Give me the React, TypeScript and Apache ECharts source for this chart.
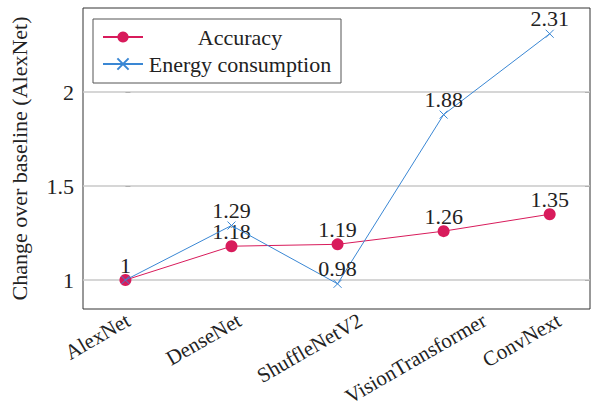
import React, { useEffect, useRef } from "react";
import * as echarts from "echarts";

const categories = ["AlexNet", "DenseNet", "ShuffleNetV2", "VisionTransformer", "ConvNext"];
const accuracy = [1, 1.18, 1.19, 1.26, 1.35];
const energy = [1, 1.29, 0.98, 1.88, 2.31];
const yTicks = [1, 1.5, 2];
const yTickLabels = ["1", "1.5", "2"];

const ACC = "#d81b5b";
const EN = "#3a87d4";
const FONT = "Liberation Serif";
const TXT = "#222";
const FS = 22;
const XFS = 21;

const X_MIN = -0.4;
const X_MAX = 4.38;
const GRID_LEFT = 83;
const GRID_RIGHT = 3;
const WIDTH = 593;

export default function App() {
  const ref = useRef<HTMLDivElement>(null);
  useEffect(() => {
    if (!ref.current) return;
    const chart = echarts.init(ref.current, null, { renderer: "svg" });
    // place rotated category labels so that their centre sits left of the tick (as in the reference)
    const pxPerUnit = (WIDTH - GRID_LEFT - GRID_RIGHT) / (X_MAX - X_MIN);
    const canvas = document.createElement("canvas");
    const ctx = canvas.getContext("2d")!;
    ctx.font = `${XFS}px "${FONT}"`;
    const labelPos = categories.map((c, i) => {
      const w = ctx.measureText(c).width;
      const shiftPx = -33 + 0.433 * w;
      return i + shiftPx / pxPerUnit;
    });
    const nearest = (v: number) => {
      let best = 0;
      labelPos.forEach((p, i) => {
        if (Math.abs(p - v) < Math.abs(labelPos[best] - v)) best = i;
      });
      return best;
    };
    chart.setOption({
      animation: false,
      textStyle: { fontFamily: FONT, color: TXT },
      grid: {
        left: GRID_LEFT,
        top: 8,
        right: GRID_RIGHT,
        bottom: 96,
        show: true,
        borderColor: "#333",
        borderWidth: 1,
        containLabel: false,
        outerBoundsMode: "none",
      },
      legend: {
        left: 93,
        top: 19,
        orient: "vertical",
        padding: [7, 9, 8, 9],
        borderColor: "#555",
        borderWidth: 1,
        borderRadius: 0,
        itemWidth: 40,
        itemHeight: 14,
        itemGap: 5,
        backgroundColor: "#fff",
        data: ["Accuracy", "Energy consumption"],
        formatter: (n: string) => `{t|${n}}`,
        textStyle: {
          fontFamily: FONT,
          color: TXT,
          fontSize: FS,
          rich: { t: { width: 184, align: "center", fontSize: FS, fontFamily: FONT, color: TXT, lineHeight: 22 } },
        },
      },
      xAxis: {
        type: "value",
        min: X_MIN,
        max: X_MAX,
        axisLine: { show: false },
        axisTick: { show: false },
        splitLine: { show: false },
        axisLabel: {
          customValues: labelPos,
          formatter: (v: number) => categories[nearest(v)],
          rotate: 30,
          align: "right",
          verticalAlign: "top",
          fontSize: XFS,
          fontFamily: FONT,
          color: TXT,
          lineHeight: 20,
          margin: 1,
        },
      },
      yAxis: [
        {
          type: "value",
          min: 0.846,
          max: 2.447,
          name: "Change over baseline (AlexNet)",
          nameLocation: "middle",
          nameRotate: 90,
          nameGap: 53,
          nameTextStyle: { fontSize: FS, fontFamily: FONT, color: TXT },
          axisLine: { show: false },
          splitLine: { show: false },
          axisTick: { customValues: yTicks, inside: true, length: 5, lineStyle: { color: "#666" } },
          axisLabel: {
            customValues: yTicks,
            formatter: (v: number) => yTickLabels[yTicks.indexOf(v)] ?? String(v),
            fontSize: FS,
            fontFamily: FONT,
            color: TXT,
            margin: 9,
          },
        },
        {
          type: "value",
          min: 0.846,
          max: 2.447,
          position: "right",
          axisLine: { show: false },
          splitLine: { show: false },
          axisTick: { customValues: yTicks, inside: true, length: 5, lineStyle: { color: "#666" } },
          axisLabel: { show: false },
        },
      ],
      series: [
        {
          name: "Accuracy",
          type: "line",
          data: accuracy.map((v, i) => [i, v]),
          symbol: "circle",
          symbolSize: 12,
          lineStyle: { color: ACC, width: 1 },
          itemStyle: { color: ACC },
          z: 3,
          label: {
            show: true,
            position: "top",
            distance: -2,
            formatter: (p: any) => String(p.value[1]),
            fontSize: FS,
            fontFamily: FONT,
            color: TXT,
          },
          markLine: {
            silent: true,
            symbol: "none",
            z: 1,
            label: { show: false },
            lineStyle: { color: "#c8c8c8", width: 1.5, type: "solid" },
            data: yTicks.map((y) => ({ yAxis: y })),
          },
        },
        {
          name: "Energy consumption",
          type: "line",
          data: energy.map((v, i) =>
            i === 0 ? { value: [i, v], label: { show: false } } : [i, v]
          ),
          symbol: "path://M0,0L10,10M10,0L0,10",
          symbolSize: 8,
          lineStyle: { color: EN, width: 1 },
          itemStyle: { color: EN, borderColor: EN, borderWidth: 1 },
          z: 4,
          label: {
            show: true,
            position: "top",
            distance: 0,
            formatter: (p: any) => String(p.value[1]),
            fontSize: FS,
            fontFamily: FONT,
            color: TXT,
          },
        },
      ],
    });
    return () => chart.dispose();
  }, []);
  return <div ref={ref} style={{ width: 593, height: 405, position: "absolute", left: 0, top: 0 }} />;
}
